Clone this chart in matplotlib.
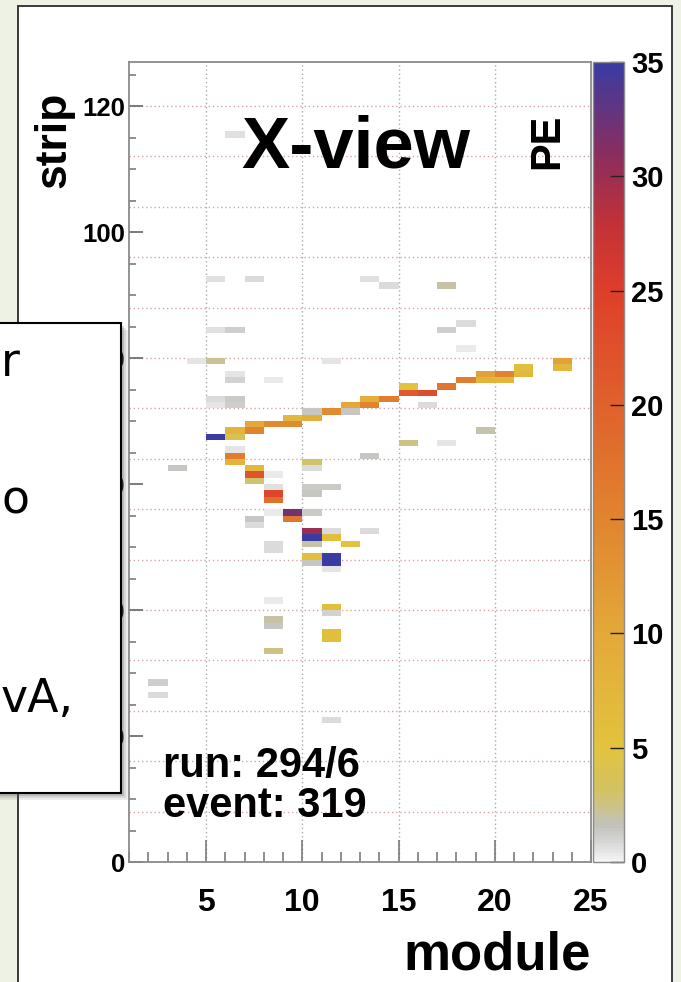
import numpy as np
import matplotlib
matplotlib.use("Agg")
import matplotlib.pyplot as plt
from matplotlib.colors import LinearSegmentedColormap, Normalize
from matplotlib.patches import Rectangle

# ---------------- data ----------------
hit_module = [4, 5, 11, 6, 6, 8, 5, 5, 6, 6,
              5, 6, 6, 7, 7, 8, 9, 9, 10, 10, 11, 12, 12, 13, 13, 14, 15, 15, 16, 16,
              17, 18, 19, 19, 20, 20, 21, 21, 23, 23,
              17, 13, 14, 5, 7, 18, 17, 5, 6, 18, 6, 19, 15, 17, 13, 3,
              6, 6, 6, 7, 7, 7, 8, 8, 8, 8, 9, 9, 8, 10, 7, 7, 8, 8,
              10, 10, 10, 11, 10, 10, 10, 10, 11, 11, 12, 13, 10, 10, 11, 11, 11,
              8, 8, 8, 8, 11, 11, 11, 11, 2, 2, 11]
hit_strip = [79, 79, 79, 77, 76, 76, 73, 72, 73, 72,
             67, 68, 67, 69, 68, 69, 70, 69, 71, 70, 71, 72, 71, 73, 72, 73, 75, 74, 74, 72,
             75, 76, 77, 76, 77, 76, 78, 77, 79, 78,
             91, 92, 91, 92, 92, 85, 84, 84, 84, 81, 115, 68, 66, 66, 64, 62,
             65, 64, 63, 62, 61, 60, 61, 59, 58, 57, 55, 54, 55, 55, 54, 53, 50, 49,
             63, 62, 59, 59, 58, 52, 51, 50, 52, 51, 50, 52, 48, 47, 48, 47, 46,
             41, 38, 37, 33, 40, 39, 36, 35, 28, 26, 22]
hit_pe = [0.5, 2.2, 0.5, 0.5, 1.0, 0.3, 0.8, 0.5, 1.3, 1.1,
          35, 8, 4, 10, 15, 14, 7, 14, 1.5, 9, 14, 10, 1.5, 9, 15, 16, 5, 21, 23, 0.7,
          17, 16, 11, 8, 15, 7, 6, 7, 11, 7,
          2.0, 0.6, 0.7, 0.6, 0.8, 0.8, 1.2, 0.6, 1.2, 0.4, 0.6, 1.8, 2.5, 0.5, 1.5, 1.5,
          0.5, 16, 8, 7, 22, 3, 0.3, 0.6, 24, 18, 32, 17, 0.3, 1.3, 1.5, 0.7, 0.7, 0.7,
          3, 0.8, 1.3, 1.3, 1.5, 30, 35, 2, 0.8, 6, 5, 0.7, 6, 1.5, 35, 35, 0.5,
          0.4, 2, 1.5, 2.5, 6, 1, 6, 6, 1.2, 0.8, 0.8]

x_ticks = [5, 10, 15, 20, 25]
y_ticks = [0, 20, 40, 60, 80, 100, 120]
cbar_ticks = [0, 5, 10, 15, 20, 25, 30, 35]

# ---------------- figure ----------------
W, H = 681, 982
fig = plt.figure(figsize=(W / 100, H / 100), dpi=100, facecolor="#eef2e5")

def fx(x):
    return x / W

def fy(y):
    return 1 - y / H

# white slide frame
fig.add_artist(Rectangle((fx(18), fy(995)), (672 - 18) / W, (995 - 6) / H,
                         transform=fig.transFigure, facecolor="white",
                         edgecolor="#2b2b2b", lw=1.3, zorder=-5))

ax = fig.add_axes([fx(129), fy(862), (591 - 129) / W, (862 - 62) / H])
cax = fig.add_axes([fx(593), fy(862), (624 - 593) / W, (862 - 62) / H])

cmap = LinearSegmentedColormap.from_list("pe", [
    (0.0, "#f4f4f4"),
    (0.02, "#dadada"),
    (0.043, "#c2c2be"),
    (0.086, "#d2c264"),
    (0.143, "#e2c33e"),
    (0.286, "#e3a839"),
    (0.429, "#e1842f"),
    (0.571, "#e0612c"),
    (0.714, "#de3f2a"),
    (0.80, "#c23138"),
    (0.886, "#8a2d5e"),
    (1.0, "#3a3ca2"),
], N=256)
norm = Normalize(0, 35)

x_edges = np.arange(1, 26)
y_edges = np.arange(0, 128)
grid = np.zeros((len(y_edges) - 1, len(x_edges) - 1))
for m, s, pe in zip(hit_module, hit_strip, hit_pe):
    grid[s, m - 1] = pe
grid = np.ma.masked_equal(grid, 0)

mesh = ax.pcolormesh(x_edges, y_edges, grid, cmap=cmap, norm=norm, zorder=2)
ax.set_xlim(1, 25)
ax.set_ylim(0, 127)

# grid lines
for g in x_ticks[:-1]:
    ax.axvline(g, color="#aaaaaa", lw=1.0, ls=(0, (1, 2)), zorder=1)
for g in np.arange(8, 127, 8):
    ax.axhline(g, color="#d6a6a6", lw=1.0, ls=(0, (1, 2)), zorder=1)

# ticks
lab_font = dict(family="Liberation Sans", weight="bold")
ax.set_xticks(x_ticks)
ax.set_xticks(np.arange(1, 26), minor=True)
ax.set_yticks(y_ticks)
ax.set_yticks(np.arange(0, 128, 5), minor=True)
ax.set_xticklabels([str(t) for t in x_ticks], fontsize=23, **lab_font)
ax.set_yticklabels([str(t) for t in y_ticks], fontsize=18.5, **lab_font)
ax.tick_params(axis="x", which="major", direction="in", length=16, width=1.1,
               color="#707070", pad=19, top=False)
ax.tick_params(axis="x", which="minor", direction="in", length=7, width=1.1,
               color="#707070", top=False)
ax.tick_params(axis="y", which="major", direction="in", length=10, width=1.3,
               color="#707070", pad=3, right=False)
ax.tick_params(axis="y", which="minor", direction="in", length=5, width=1.1,
               color="#707070", right=False)
for sp in ax.spines.values():
    sp.set_color("#8a8a8a")
    sp.set_linewidth(1.3)

# colorbar
cb = fig.colorbar(mesh, cax=cax, ticks=cbar_ticks)
cb.outline.set_edgecolor("#8a8a8a")
cb.outline.set_linewidth(1.0)
cax.tick_params(direction="in", length=10, width=1.0, color="#222222", pad=5)
cax.set_yticklabels([str(t) for t in cbar_ticks], fontsize=21, **lab_font)

# texts
bold = dict(family="Liberation Sans", weight="bold", color="black")
fig.text(fx(241), fy(168), "X-view", fontsize=52, ha="left", va="baseline", **bold)
fig.text(fx(547), fy(141), "PE", fontsize=30, rotation=90, ha="center", va="center", **bold)
fig.text(fx(54), fy(140), "strip", fontsize=32, rotation=90, ha="center", va="center", **bold)
fig.text(fx(591), fy(969), "module", fontsize=38, ha="right", va="baseline", **bold)
fig.text(fx(163), fy(777), "run: 294/6", fontsize=30, ha="left", va="baseline", **bold)
fig.text(fx(163), fy(817), "event: 319", fontsize=30, ha="left", va="baseline", **bold)

# overlaid slide box (partially visible)
bx0, bx1, by0, by1 = -10, 121, 323, 793
for off, a in [(7, 0.10), (5, 0.15), (3, 0.22)]:
    fig.add_artist(Rectangle((fx(bx0 + off), fy(by1 + off)), (bx1 - bx0) / W, (by1 - by0) / H,
                             transform=fig.transFigure, facecolor="#555555",
                             edgecolor="none", alpha=a, zorder=19))
fig.add_artist(Rectangle((fx(bx0), fy(by1)), (bx1 - bx0) / W, (by1 - by0) / H,
                         transform=fig.transFigure, facecolor="white",
                         edgecolor="black", lw=1.5, zorder=20))
box_font = dict(family="Liberation Sans Narrow", color="black", zorder=21)
fig.text(fx(0.5), fy(376), "r", fontsize=33, ha="left", va="baseline", **box_font)
fig.text(fx(31), fy(513), "no", fontsize=33, ha="right", va="baseline", **box_font)
fig.text(fx(0.5), fy(712), "vA,", fontsize=33, ha="left", va="baseline", **box_font)

fig.savefig("out.png", dpi=100, facecolor=fig.get_facecolor())
